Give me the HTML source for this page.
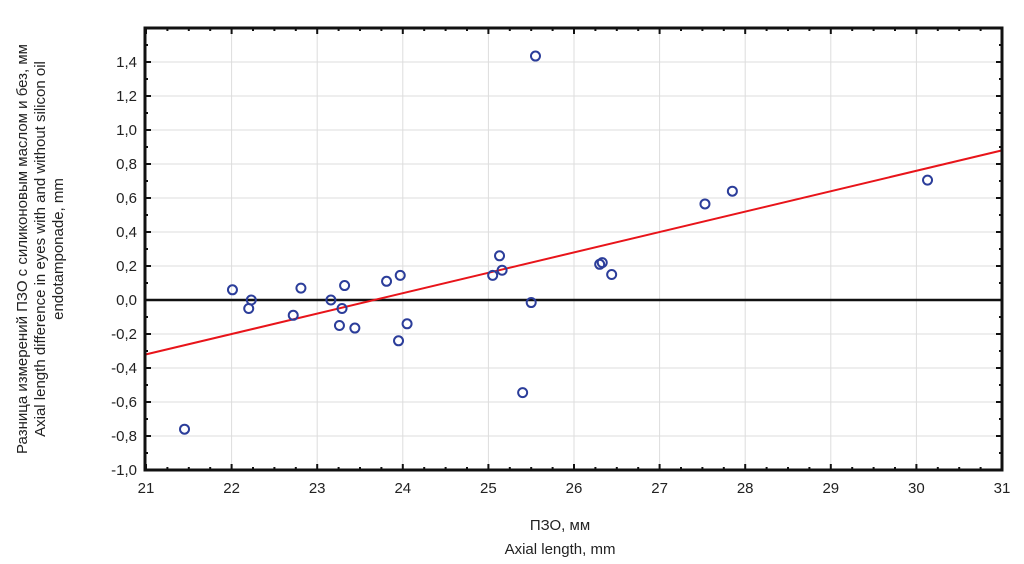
<!DOCTYPE html>
<html><head><meta charset="utf-8"><style>
body{margin:0;background:#fff;}
svg{display:block;font-family:"Liberation Sans","DejaVu Sans",sans-serif;}
</style></head><body>
<svg id="chart" width="1024" height="564">
<g id="grid"></g>
<g id="ticks"></g>
<g id="marks"></g>
<rect x="145" y="28" width="857" height="442" fill="none" stroke="#111" stroke-width="3"/>
<text x="560" y="530" font-size="15" text-anchor="middle" fill="#222">ПЗО, мм</text>
<text x="560" y="554" font-size="15" text-anchor="middle" fill="#222">Axial length, mm</text>
<g transform="translate(27,249) rotate(-90)">
<text x="0" y="0" font-size="15" text-anchor="middle" fill="#222">Разница измерений ПЗО с силиконовым маслом и без, мм</text>
<text x="0" y="18" font-size="15" text-anchor="middle" fill="#222">Axial length difference in eyes with and without silicon oil</text>
<text x="0" y="36" font-size="15" text-anchor="middle" fill="#222">endotamponade, mm</text>
</g>
</svg>
<script>
const xTicks=[21,22,23,24,25,26,27,28,29,30,31];
const yTicks=[-1.0,-0.8,-0.6,-0.4,-0.2,0.0,0.2,0.4,0.6,0.8,1.0,1.2,1.4];
const xVals=[21.45,22.01,22.2,22.23,22.72,22.81,23.16,23.26,23.29,23.32,23.44,23.81,23.95,23.97,24.05,25.05,25.13,25.16,25.4,25.5,25.55,26.3,26.33,26.44,27.53,27.85,30.13];
const yVals=[-0.76,0.06,-0.05,0.0,-0.09,0.07,0.0,-0.15,-0.05,0.085,-0.165,0.11,-0.24,0.145,-0.14,0.145,0.26,0.175,-0.545,-0.015,1.435,0.21,0.22,0.15,0.565,0.64,0.705];
const fitX=[21,31];
const fitY=[-0.32,0.88];
const NS='http://www.w3.org/2000/svg';
const X0=146,X1=1002,XMIN=21,XMAX=31,Y0=470,Y1=28,YMIN=-1.0,YMAX=1.6;
function sx(v){return X0+(v-XMIN)/(XMAX-XMIN)*(X1-X0);}
function sy(v){return Y0-(v-YMIN)/(YMAX-YMIN)*(Y0-Y1);}
function mk(tag,attrs,parent){const e=document.createElementNS(NS,tag);for(const k in attrs)e.setAttribute(k,attrs[k]);parent.appendChild(e);return e;}
const grid=document.getElementById('grid'),ticks=document.getElementById('ticks'),marks=document.getElementById('marks');
xTicks.forEach(t=>{
 const l=mk('line',{x1:sx(t),x2:sx(t),y1:Y1,y2:Y0,stroke:'#ddd','stroke-width':1},grid);
 
 
 const tx=mk('text',{x:sx(t),y:Y0+23,'font-size':15,'text-anchor':'middle',fill:'#222'},ticks);
 tx.textContent=String(t);
 
 
});
yTicks.forEach(t=>{
 const l=mk('line',{x1:X0,x2:X1,y1:sy(t),y2:sy(t),stroke:'#ddd','stroke-width':1},grid);
 
 
 const tx=mk('text',{x:137,y:sy(t)+5,'font-size':15,'text-anchor':'end',fill:'#222'},ticks);
 tx.textContent=t.toFixed(1).replace('.',',');
 
 
});
for(let v=21;v<=31.001;v+=0.25){
 const major=Math.abs(v-Math.round(v))<1e-6,len=major?6:3;
 mk('line',{x1:sx(v),x2:sx(v),y1:Y0,y2:Y0-len,stroke:'#111','stroke-width':2},ticks);
 mk('line',{x1:sx(v),x2:sx(v),y1:Y1,y2:Y1+len,stroke:'#111','stroke-width':2},ticks);
}
for(let v=-1.0;v<=1.601;v+=0.1){
 const major=Math.abs(v*5-Math.round(v*5))<1e-6,len=major?6:3;
 mk('line',{x1:145,x2:145+len,y1:sy(v),y2:sy(v),stroke:'#111','stroke-width':2},ticks);
 mk('line',{x1:1002,x2:1002-len,y1:sy(v),y2:sy(v),stroke:'#111','stroke-width':2},ticks);
}
const zl=mk('line',{x1:X0,x2:X1,y1:sy(0),y2:sy(0),stroke:'#111','stroke-width':2.5},marks);


const fl=mk('line',{x1:sx(fitX[0]),x2:sx(fitX[1]),y1:sy(fitY[0]),y2:sy(fitY[1]),stroke:'#e8141a','stroke-width':2},marks);


xVals.forEach((x,i)=>{
 const c=mk('circle',{cx:sx(x),cy:sy(yVals[i]),r:4.5,fill:'none',stroke:'#2b3d9a','stroke-width':2},marks);
 
 
});
</script>
</body></html>
